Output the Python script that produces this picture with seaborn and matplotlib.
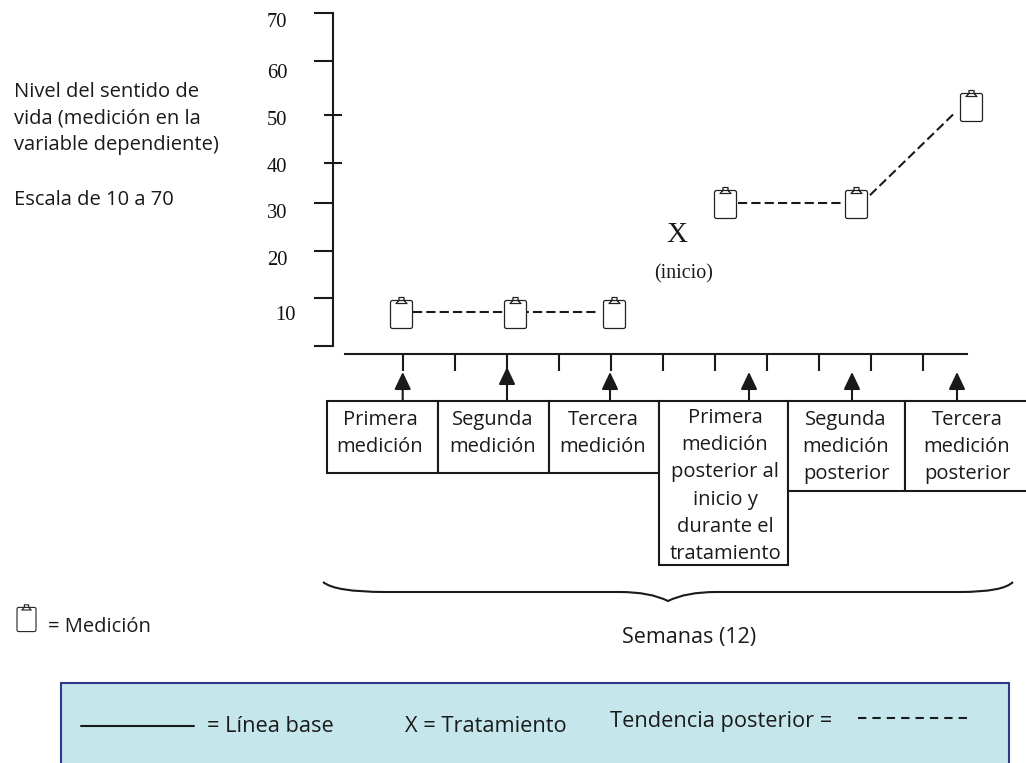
import numpy as np
import pandas as pd
import matplotlib
matplotlib.use("Agg")
import matplotlib.pyplot as plt
from matplotlib.path import Path
from matplotlib.patches import PathPatch, Rectangle
import seaborn as sns

semanas_medicion = [0.97, 3.16, 5.06, 7.2, 9.71, 11.92]
nivel_medicion = [6.8, 6.8, 6.8, 29.85, 29.85, 50.2]

# tramos punteados de la tendencia
tramo_id = ["a", "a", "b", "b", "c", "c"]
tramo_semana = [1.19, 4.73, 7.44, 9.46, 9.98, 11.6]
tramo_nivel = [7.15, 7.15, 30.05, 30.05, 31.7, 48.9]

marcas_y = [0, 10, 20, 30, 60, 70]
marcas_y_cruzadas = [38.5, 48.5]
marcas_x = list(range(1, 12))

etiquetas_y = ["70", "60", "50", "40", "30", "20", "10"]
cajas = [
    ["Primera", "medición"],
    ["Segunda", "medición"],
    ["Tercera", "medición"],
    ["Primera", "medición", "posterior al", "inicio y", "durante el", "tratamiento"],
    ["Segunda", "medición", "posterior"],
    ["Tercera", "medición", "posterior"],
]

sns.set_theme(style="white", rc={"axes.linewidth": 1.5, "text.color": "k"})
plt.rcParams["font.family"] = ["Open Sans", "DejaVu Sans"]
SERIF = "Liberation Serif"
FS = 14.5
FS_PANEL = 15.7

def clipboard():
    verts, codes = [], []
    w, h, r = 11, 14, 2
    verts += [(-w + r, -h), (w - r, -h), (w, -h), (w, -h + r), (w, h - r), (w, h), (w - r, h),
              (-w + r, h), (-w, h), (-w, h - r), (-w, -h + r), (-w, -h), (-w + r, -h)]
    codes += [Path.MOVETO, Path.LINETO, Path.CURVE3, Path.CURVE3, Path.LINETO, Path.CURVE3, Path.CURVE3,
              Path.LINETO, Path.CURVE3, Path.CURVE3, Path.LINETO, Path.CURVE3, Path.CURVE3]
    verts += [(-5.5, 11), (-2.5, 14), (-2.5, 17), (2.5, 17), (2.5, 14), (5.5, 11), (-5.5, 11)]
    codes += [Path.MOVETO] + [Path.LINETO] * 5 + [Path.CLOSEPOLY]
    return Path(verts, codes)

marker = clipboard()

fig = plt.figure(figsize=(10.26, 7.63), dpi=100)

# capa de esquema en pixeles (cajas, textos, leyenda)
px = fig.add_axes([0, 0, 1, 1])
px.set_xlim(0, 1026)
px.set_ylim(763, 0)
px.axis("off")

# panel de leyenda
px.add_patch(Rectangle((61, 683), 948, 100, fc="#C5E7EC", ec="#2E3A8C", lw=1.5))
px.plot([81, 194], [726, 726], color="k", lw=1.5)
px.plot([858, 967], [718, 718], color="k", lw=1.5, linestyle=(0, (4, 2.9)))
px.text(207, 732, "= Línea base", fontsize=FS_PANEL, va="baseline")
px.text(405, 732, "X = Tratamiento", fontsize=FS_PANEL, va="baseline")
px.text(610, 727, "Tendencia posterior =", fontsize=FS_PANEL, va="baseline")

# cajas
bordes = [(327, 437.5, 473), (437.5, 549, 473), (549, 658.5, 473),
          (658.5, 788, 565), (788, 905, 491), (905, 1030, 491)]
centros = [380, 493, 603, 725, 846, 967]
primera_base = [425, 425, 425, 423, 425, 425]
for (x0, x1, y1), cx, y0, lineas in zip(bordes, centros, primera_base, cajas):
    px.add_patch(Rectangle((x0, 401), x1 - x0, y1 - 401, fc="white", ec="k", lw=1.5))
    for i, linea in enumerate(lineas):
        px.text(cx, y0 + i * 27.2, linea, fontsize=FS, ha="center", va="baseline")

# flechas
flechas_x = [402.7, 507, 610, 749, 852, 957]
flechas_tip = [372, 367, 372, 372, 372, 372]
for x, tip in zip(flechas_x, flechas_tip):
    px.annotate("", xy=(x, tip), xytext=(x, 401),
                arrowprops=dict(arrowstyle="-|>,head_length=1.05,head_width=0.5", mutation_scale=10,
                                lw=1.5, color="k", shrinkA=0, shrinkB=0))

# llave
llave = Path(
    [(323, 582), (335, 592), (385, 592), (620, 592), (650, 592), (668, 601),
     (686, 592), (716, 592), (960, 592), (1003, 592), (1013, 582)],
    [Path.MOVETO, Path.CURVE3, Path.CURVE3, Path.LINETO, Path.CURVE3, Path.CURVE3,
     Path.CURVE3, Path.CURVE3, Path.LINETO, Path.CURVE3, Path.CURVE3],
)
px.add_patch(PathPatch(llave, fc="none", ec="k", lw=1.5))
px.text(689.5, 643, "Semanas (12)", fontsize=15.5, ha="center", va="baseline")

# textos de la izquierda
for y, t in zip([97, 123.5, 150, 205],
                ["Nivel del sentido de", "vida (medición en la", "variable dependiente)", "Escala de 10 a 70"]):
    px.text(14, y, t, fontsize=FS, va="baseline")

etiq_x = [277, 277, 277, 277, 277, 277, 285]
etiq_y = [27, 78, 125, 172, 218, 265, 320]
for x, y, t in zip(etiq_x, etiq_y, etiquetas_y):
    px.text(x, y, t, family=SERIF, fontsize=14.8, ha="center", va="baseline", color="#111111")

px.text(677, 242, "X", family=SERIF, fontsize=21, ha="center", va="baseline")
px.text(684, 278, "(inicio)", family=SERIF, fontsize=14.4, ha="center", va="baseline")

# leyenda de medicion
sns.scatterplot(x=[25.5], y=[619], ax=px, marker=marker, s=447, color="white",
                edgecolor="#222222", linewidth=0.8, legend=False)
px.set_xlim(0, 1026)
px.set_ylim(763, 0)
px.text(48, 632, "= Medición", fontsize=FS, va="baseline")

# ejes del grafico: semana / nivel
W, H = 1026, 763
ax = fig.add_axes([333 / W, 1 - 346 / H, (1013 - 333) / W, (346 - 13) / H])
ax.patch.set_alpha(0)

tramos = pd.DataFrame({"tramo": tramo_id, "semana": tramo_semana, "nivel": tramo_nivel})
sns.lineplot(data=tramos, x="semana", y="nivel", units="tramo", estimator=None, ax=ax,
             color="k", linewidth=1.5, linestyle=(0, (4.4, 2)), zorder=2)

medidas = pd.DataFrame({"semana": semanas_medicion, "nivel": nivel_medicion})
sns.scatterplot(data=medidas, x="semana", y="nivel", ax=ax, marker=marker, s=599, color="white",
                edgecolor="#222222", linewidth=0.9, zorder=3, legend=False)

ax.set_xlim((333 - 351) / 52, (1013 - 351) / 52)
ax.set_ylim(0, 70)
ax.set_xlabel("")
ax.set_ylabel("")
ax.set_xticks(marcas_x)
ax.set_yticks(marcas_y)
ax.set_yticks(marcas_y_cruzadas, minor=True)
ax.tick_params(axis="both", which="major", labelleft=False, labelbottom=False, left=True, bottom=True,
               direction="out", width=1.5, color="k")
ax.tick_params(axis="y", which="major", length=13.7)
ax.tick_params(axis="x", which="major", length=12.2)
ax.tick_params(axis="y", which="minor", left=True, direction="inout", length=13, width=1.5, color="k")

sns.despine(ax=ax, top=True, right=True)
ax.spines["left"].set_color("k")
ax.spines["bottom"].set_color("k")
ax.spines["bottom"].set_position(("outward", 5.76))
ax.spines["bottom"].set_bounds((345 - 351) / 52, (967 - 351) / 52)

fig.savefig("out.png", dpi=100)
